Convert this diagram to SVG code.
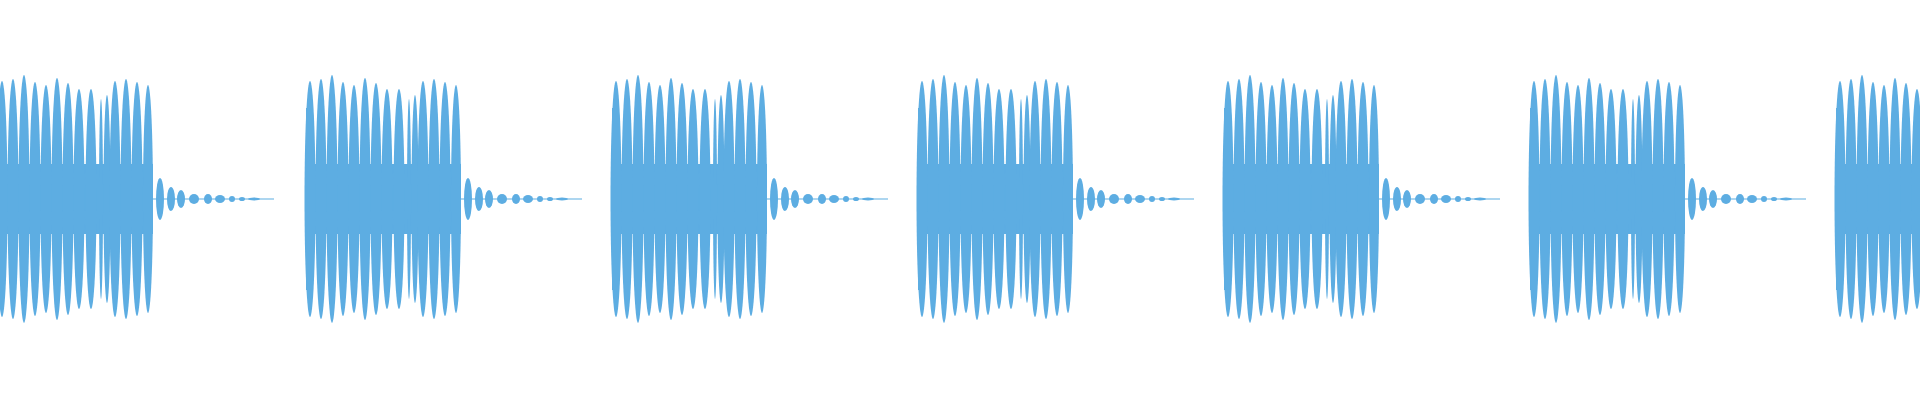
<svg xmlns="http://www.w3.org/2000/svg" width="1920" height="400" viewBox="0 0 1920 400">
<style>.w{fill:#5dade2}.l{stroke:#5dade2;stroke-width:1.2}</style>
<defs>
<g id="burst">
<rect class="w" x="0" y="164" width="155" height="70"/>
<rect class="w" x="0" y="108" width="3" height="182"/>
<ellipse class="w" cx="4" cy="199" rx="5.5" ry="118"/>
<ellipse class="w" cx="15" cy="199" rx="5.5" ry="120"/>
<ellipse class="w" cx="26" cy="199" rx="5.5" ry="124"/>
<ellipse class="w" cx="37" cy="199" rx="5.5" ry="117"/>
<ellipse class="w" cx="48" cy="199" rx="5.5" ry="114"/>
<ellipse class="w" cx="59" cy="199" rx="5.5" ry="121"/>
<ellipse class="w" cx="70" cy="199" rx="5.5" ry="116"/>
<ellipse class="w" cx="81" cy="199" rx="5.5" ry="110"/>
<ellipse class="w" cx="93" cy="199" rx="5.5" ry="110"/>
<ellipse class="w" cx="103" cy="199" rx="2" ry="100"/>
<ellipse class="w" cx="109" cy="199" rx="3.5" ry="104"/>
<ellipse class="w" cx="117" cy="199" rx="5.5" ry="118"/>
<ellipse class="w" cx="128" cy="199" rx="5.5" ry="120"/>
<ellipse class="w" cx="139" cy="199" rx="5.5" ry="117"/>
<ellipse class="w" cx="150" cy="199" rx="5" ry="114"/>
<line class="l" x1="155" y1="199" x2="276" y2="199"/>
<ellipse class="w" cx="162" cy="199" rx="4" ry="21"/>
<ellipse class="w" cx="173" cy="199" rx="4" ry="12"/>
<ellipse class="w" cx="183" cy="199" rx="4" ry="9"/>
<ellipse class="w" cx="196" cy="199" rx="5" ry="5"/>
<ellipse class="w" cx="210" cy="199" rx="4" ry="5"/>
<ellipse class="w" cx="222" cy="199" rx="5" ry="4"/>
<ellipse class="w" cx="234" cy="199" rx="3" ry="3"/>
<ellipse class="w" cx="244" cy="199" rx="3" ry="2"/>
<ellipse class="w" cx="256" cy="199" rx="6" ry="1.5"/>
</g>
</defs>
<use href="#burst" x="-2"/>
<use href="#burst" x="306"/>
<use href="#burst" x="612"/>
<use href="#burst" x="918"/>
<use href="#burst" x="1224"/>
<use href="#burst" x="1530"/>
<use href="#burst" x="1836"/>
</svg>
